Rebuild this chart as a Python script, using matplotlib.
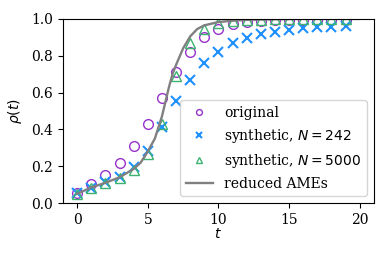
import matplotlib
matplotlib.use("Agg")
import matplotlib.pyplot as plt
import numpy as np

plt.rcParams['font.family'] = 'DejaVu Serif'
plt.rcParams['mathtext.fontset'] = 'dejavusans'
plt.rcParams['font.size'] = 10

t = list(range(20))
original = [0.055, 0.105, 0.15, 0.217, 0.31, 0.43, 0.573, 0.713, 0.82, 0.90,
            0.944, 0.973, 0.984, 0.99, 0.992, 0.993, 0.993, 0.994, 0.994, 0.995]
synth_242 = [0.055, 0.083, 0.113, 0.14, 0.195, 0.282, 0.413, 0.555, 0.667, 0.758,
             0.822, 0.867, 0.895, 0.918, 0.931, 0.94, 0.949, 0.955, 0.958, 0.962]
synth_5000 = [0.05, 0.083, 0.108, 0.135, 0.18, 0.264, 0.428, 0.689, 0.871, 0.944,
              0.98, 0.99, 0.995, 0.996, 0.997, 0.997, 0.998, 0.998, 0.998, 0.998]
ame_t = [0, 1, 2, 3, 4, 4.5, 5, 5.5, 6, 6.25, 6.5, 6.75, 7, 7.5, 8, 8.5, 9, 10, 11, 12, 14, 16, 20]
ame_rho = [0.05, 0.085, 0.11, 0.14, 0.185, 0.22, 0.28, 0.35, 0.47, 0.55, 0.63, 0.70, 0.75,
           0.84, 0.905, 0.945, 0.965, 0.983, 0.99, 0.995, 0.998, 1.0, 1.0]

fig = plt.figure(figsize=(3.89, 2.59), dpi=100)
ax = fig.add_axes([0.162, 0.216, 0.799, 0.711])

ax.plot(t, original, 'o', mfc='none', mec='#9932CC', ms=7, mew=1.0, label='original')
ax.plot(t, synth_242, 'x', color='#1E90FF', ms=7, mew=1.5, label=r'synthetic, $N = 242$')
ax.plot(t, synth_5000, '^', mfc='none', mec='#3CB371', ms=7, mew=1.0, label=r'synthetic, $N = 5000$')
ax.plot(ame_t, ame_rho, '-', color='gray', lw=1.7, label='reduced AMEs')

ax.set_xlim(-1, 21)
ax.set_ylim(0, 1.0)
ax.set_xticks([0, 5, 10, 15, 20])
ax.set_yticks([0.0, 0.2, 0.4, 0.6, 0.8, 1.0])
ax.set_xlabel(r'$t$', labelpad=0)
ax.set_ylabel(r'$\rho(t)$', labelpad=5)
ax.legend(loc='lower right', numpoints=1, markerscale=0.6, fontsize=10,
          borderaxespad=0.5, labelspacing=0.5)

fig.savefig('out.png', dpi=100)
